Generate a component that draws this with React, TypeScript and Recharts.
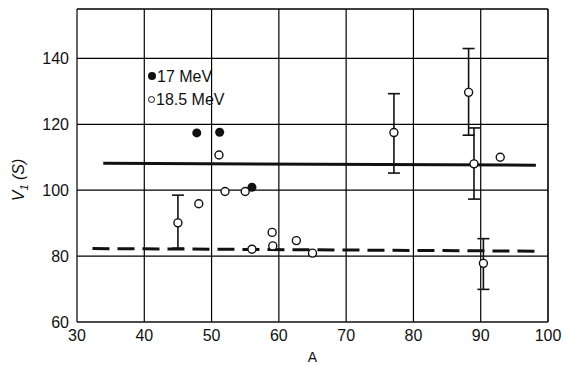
import React from 'react';
import {
  ScatterChart, Scatter, XAxis, YAxis, ReferenceLine, ErrorBar,
} from 'recharts';

// 17 MeV (filled)
const filled17 = [
  { a: 47.8, v: 117.4 },
  { a: 51.2, v: 117.6 },
  { a: 56.0, v: 100.9 },
];

// 18.5 MeV (open), no error bars
const open185 = [
  { a: 48.1, v: 95.9 },
  { a: 51.1, v: 110.7 },
  { a: 52.0, v: 99.6 },
  { a: 55.0, v: 99.6 },
  { a: 56.0, v: 82.1 },
  { a: 59.0, v: 87.2 },
  { a: 59.1, v: 83.1 },
  { a: 62.6, v: 84.7 },
  { a: 65.0, v: 80.9 },
  { a: 92.9, v: 110.0 },
];

// 18.5 MeV (open) with error bars, err = [down, up]
const open185Err = [
  { a: 45.0, v: 90.1, err: [7.7, 8.4] },
  { a: 77.1, v: 117.5, err: [12.3, 11.8] },
  { a: 88.2, v: 129.7, err: [13.0, 13.3] },
  { a: 89.0, v: 108.0, err: [10.7, 10.9] },
  { a: 90.4, v: 77.8, err: [7.9, 7.5] },
];

const solidLine = [{ x: 33.9, y: 108.2 }, { x: 98.2, y: 107.6 }];
const dashedLine = [{ x: 32.3, y: 82.3 }, { x: 98.9, y: 81.5 }];

const xTicks = [30, 40, 50, 60, 70, 80, 90, 100];
const yTicks = [60, 80, 100, 120, 140];
const xDomain = [30, 100];
const yDomain = [60, 155];

const ink = '#111';
const font = '"Liberation Sans", Arial, sans-serif';

const OpenDot = (props: any) => {
  const { cx, cy } = props;
  return <circle cx={cx} cy={cy} r={4} fill="#fff" stroke={ink} strokeWidth={1.4} />;
};

const FilledDot = (props: any) => {
  const { cx, cy } = props;
  return <circle cx={cx} cy={cy} r={4.5} fill={ink} />;
};

const YLabel = () => (
  <text
    transform="translate(24,180) rotate(-90)"
    textAnchor="middle"
    fontFamily={font}
    fontSize={16}
    fontStyle="italic"
    fill={ink}
  >
    <tspan>V</tspan>
    <tspan fontSize={11} dy={4}>1</tspan>
    <tspan dy={-4}> (S)</tspan>
  </text>
);

export default function App() {
  return (
    <div style={{ position: 'absolute', left: 0, top: 0, width: 564, height: 366, background: '#fff' }}>
      <ScatterChart width={564} height={366} margin={{ top: 9, right: 16, bottom: 12, left: 32 }}>
        <XAxis
          type="number"
          dataKey="a"
          domain={xDomain}
          ticks={xTicks}
          tickLine={false}
          axisLine={{ stroke: ink, strokeWidth: 1.3 }}
          tick={{ fill: ink, fontSize: 16, fontFamily: font }}
          height={32}
          label={{ value: 'A', position: 'insideBottom', offset: -8, fill: ink, fontSize: 14, fontFamily: font }}
        />
        <YAxis
          type="number"
          dataKey="v"
          domain={yDomain}
          ticks={yTicks}
          tickLine={false}
          axisLine={{ stroke: ink, strokeWidth: 1.3 }}
          tick={{ fill: ink, fontSize: 16, fontFamily: font }}
          width={45}
          label={<YLabel />}
        />
        {xTicks.slice(1).map((t) => (
          <ReferenceLine
            key={`gx-${t}`}
            segment={[{ x: t, y: yDomain[0] }, { x: t, y: yDomain[1] }]}
            stroke="#000"
            strokeOpacity={1}
            strokeWidth={t === 100 ? 1.6 : 1.2}
          />
        ))}
        {[...yTicks.slice(1), yDomain[1]].map((t) => (
          <ReferenceLine
            key={`gy-${t}`}
            segment={[{ x: xDomain[0], y: t }, { x: xDomain[1], y: t }]}
            stroke="#000"
            strokeOpacity={1}
            strokeWidth={t === yDomain[1] ? 1.6 : 1.2}
          />
        ))}
        <ReferenceLine segment={solidLine} stroke={ink} strokeWidth={3} />
        <ReferenceLine segment={dashedLine} stroke={ink} strokeWidth={3} strokeDasharray="17 8" />
        <Scatter data={open185Err} shape={<OpenDot />} isAnimationActive={false}>
          <ErrorBar dataKey="err" direction="y" width={6} stroke={ink} strokeWidth={1.6} />
        </Scatter>
        <Scatter data={open185} shape={<OpenDot />} isAnimationActive={false} />
        <Scatter data={filled17} shape={<FilledDot />} isAnimationActive={false} />
      </ScatterChart>
      <div style={{ position: 'absolute', left: 148, top: 65, fontFamily: font, fontSize: 16, color: ink, lineHeight: '23px' }}>
        <div><span style={{ display: 'inline-block', width: 8, height: 8, borderRadius: 4, background: ink, marginRight: 1, verticalAlign: 2 }} />17 MeV</div>
        <div><span style={{ display: 'inline-block', width: 5, height: 5, borderRadius: 4, border: `1.3px solid ${ink}`, marginRight: 1, verticalAlign: 2 }} />18.5 MeV</div>
      </div>
    </div>
  );
}
